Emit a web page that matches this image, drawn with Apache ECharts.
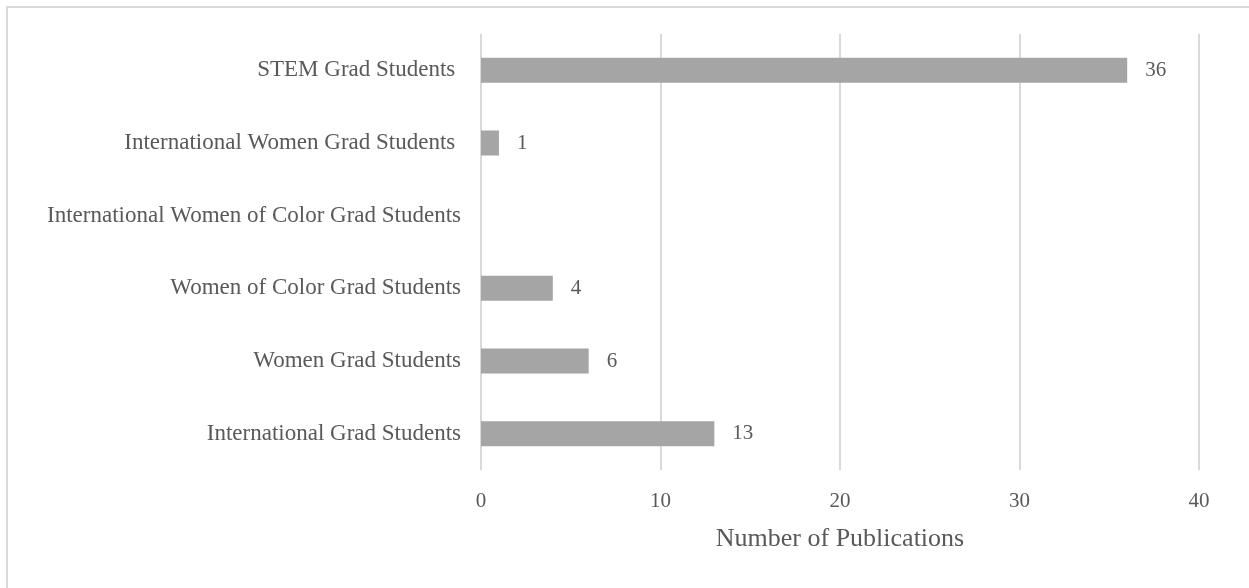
<!DOCTYPE html>
<html>
<head>
<meta charset="utf-8">
<script src="https://cdn.jsdelivr.net/npm/echarts@6/dist/echarts.min.js"></script>
<style>
  html, body { margin: 0; padding: 0; background: #ffffff; }
  #chart { width: 1249px; height: 588px; }
</style>
</head>
<body>
<div id="chart"></div>
<script>
// Groups studied, listed bottom to top as they appear on the category axis
const categories = [
  'International Grad Students',
  'Women Grad Students',
  'Women of Color Grad Students',
  'International Women of Color Grad Students',
  'International Women Grad Students ',
  'STEM Grad Students '
];
// Publication counts per group (null = none found)
const publications = [13, 6, 4, null, 1, 36];
const xTicks = [0, 10, 20, 30, 40];

const chart = echarts.init(document.getElementById('chart'));
const serif = '"Liberation Serif", "Times New Roman", serif';
const textColor = '#595959';

chart.setOption({
  animation: false,
  backgroundColor: '#ffffff',
  graphic: [{
    type: 'rect',
    shape: { x: 7, y: 7, width: 1300, height: 640 },
    style: { fill: 'none', stroke: '#d9d9d9', lineWidth: 2 },
    silent: true
  }],
  grid: { left: 481, right: 50, top: 34, bottom: 118, containLabel: false },
  xAxis: {
    type: 'value',
    min: xTicks[0],
    max: xTicks[xTicks.length - 1],
    interval: 10,
    name: 'Number of Publications',
    nameLocation: 'middle',
    nameGap: 56,
    nameTextStyle: { fontFamily: serif, fontSize: 26, color: textColor },
    axisLine: { show: false },
    axisTick: { show: false },
    axisLabel: { fontFamily: serif, fontSize: 21, color: textColor, margin: 21 },
    splitLine: { show: true, lineStyle: { color: '#d9d9d9', width: 2 } }
  },
  yAxis: {
    type: 'category',
    data: categories,
    axisLine: { show: false },
    axisTick: { show: false },
    axisLabel: { fontFamily: serif, fontSize: 23, color: textColor, margin: 20 }
  },
  series: [{
    type: 'bar',
    data: publications,
    barWidth: 25,
    itemStyle: { color: '#a5a5a5' },
    label: {
      show: true,
      position: 'right',
      distance: 18,
      fontFamily: serif,
      fontSize: 21,
      color: textColor
    }
  }]
});
</script>
</body>
</html>
